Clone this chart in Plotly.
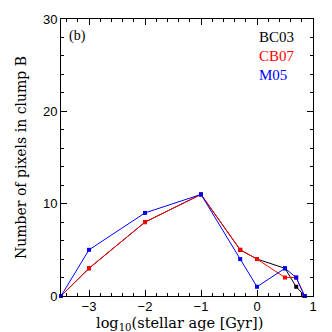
import plotly.graph_objects as go

# Data (log10 stellar age [Gyr], number of pixels)
log_age = [-3.5, -3.0, -2.0, -1.0, -0.3, 0.0, 0.5, 0.7, 0.85]
bc03 = [0, 3, 8, 11, 5, 4, 3, 1, 0]
cb07 = [0, 3, 8, 11, 5, 4, 2, 2, 0]
m05 = [0, 5, 9, 11, 4, 1, 3, 2, 0]
series_names = ["BC03", "CB07", "M05"]
series_colors = ["black", "red", "blue"]
x_tickvals = [-3, -2, -1, 0, 1]
x_ticktext = ["−3", "−2", "−1", "0", "1"]
y_tickvals = [0, 10, 20, 30]

fig = go.Figure()
for name, vals, col in zip(series_names, [bc03, cb07, m05], series_colors):
    fig.add_trace(go.Scatter(
        x=log_age, y=vals, mode="lines+markers", name=name,
        line=dict(color=col, width=1),
        marker=dict(symbol="square", size=4, color=col),
        cliponaxis=False, showlegend=False))

PL, PR, PT, PB = 61, 313, 19, 296
def px(x):
    return (x - PL) / (PR - PL)
def py(y):
    return (PB - y) / (PB - PT)

ann = []
for i, (name, col) in enumerate(zip(series_names, series_colors)):
    ann.append(dict(xref="paper", yref="paper", x=px(257), y=py(37 + i * 19),
                    xanchor="left", yanchor="middle", text=name, showarrow=False,
                    font=dict(family="Liberation Serif", size=15, color=col)))
ann.append(dict(xref="paper", yref="paper", x=px(67), y=py(36),
                xanchor="left", yanchor="middle", text="(b)", showarrow=False,
                font=dict(family="Liberation Serif", size=14, color="black")))
ann.append(dict(xref="paper", yref="paper", x=px(179), y=py(324),
                xanchor="center", yanchor="middle", text="log<sub>10</sub>(stellar age [Gyr])",
                showarrow=False,
                font=dict(family="DejaVu Serif, serif", size=14.5, color="black")))
ann.append(dict(xref="paper", yref="paper", x=px(21), y=py(158), textangle=-90,
                xanchor="center", yanchor="middle", text="Number of pixels in clump B",
                showarrow=False,
                font=dict(family="DejaVu Serif, serif", size=14, color="black")))

axis_common = dict(
    showline=True, linecolor="black", linewidth=1, mirror="allticks",
    ticks="inside", ticklen=6, tickwidth=1, tickcolor="black",
    showgrid=False, zeroline=False,
    tickfont=dict(family="Liberation Sans", size=13, color="black"),
)

fig.update_layout(
    width=332, height=332,
    margin=dict(l=PL, r=332 - PR, t=PT, b=332 - PB),
    paper_bgcolor="white", plot_bgcolor="white",
    annotations=ann,
    xaxis=dict(range=[-3.5, 1.0], tickmode="array", tickvals=x_tickvals,
               ticktext=x_ticktext, ticklabelstandoff=-2,
               minor=dict(ticks="inside", ticklen=3, dtick=0.2, tick0=0, tickcolor="black", showgrid=False),
               **axis_common),
    yaxis=dict(range=[0, 30], tickmode="array", tickvals=y_tickvals,
               minor=dict(ticks="inside", ticklen=3, dtick=2, tick0=0, tickcolor="black", showgrid=False),
               **axis_common),
)

fig.write_html("out.html", config={"displayModeBar": False},
               post_script="document.body.style.margin='0';document.body.style.overflow='hidden';")
